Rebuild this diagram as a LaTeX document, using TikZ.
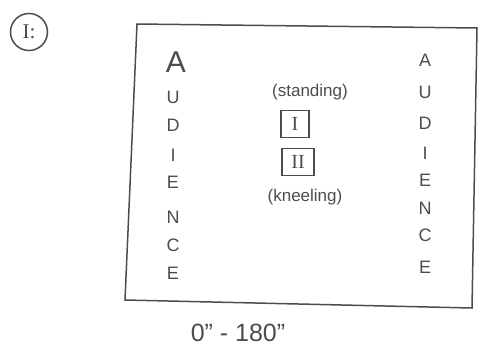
\documentclass[tikz,border=0pt]{standalone}
\usepackage{fontspec}
\setmainfont{Liberation Sans}
\newfontfamily\numfont{Liberation Serif}
\usetikzlibrary{calc}

\tikzset{
  pen/.style={draw=black!70, line width=1.5pt},
  letter/.style={text=black!70, font=\fontsize{18}{18}\selectfont, inner sep=0},
  note/.style={text=black!70, font=\fontsize{17}{17}\selectfont, inner sep=0},
  posbox/.style={pen, text=black!70, font=\numfont\fontsize{20}{20}\selectfont, minimum width=28pt, minimum height=27pt, inner sep=0},
}

\begin{document}
\begin{tikzpicture}[x=1pt, y=-1pt]
\useasboundingbox (0,0) rectangle (479,351);
% stage outline
\coordinate (tl) at (137,24);
\coordinate (tr) at (477,28);
\coordinate (br) at (472,308);
\coordinate (bl) at (125,300);
\draw[pen] (tl) -- (tr) -- (br) -- (bl) -- cycle;
% scene number
\node[circle, pen, minimum size=37pt, inner sep=0, text=black!70, font=\numfont\fontsize{21}{21}\selectfont] (scene) at (29,32) {I:};
% audience, left side
\node[letter, font=\fontsize{30}{30}\selectfont] (la1) at (176,62) {A};
\foreach \ch/\y [count=\i from 2] in {U/97, D/125, I/155, E/182, N/217, C/245, E/273} {
  \node[letter] (la\i) at (173,\y) {\ch};
}
% audience, right side
\foreach \ch/\y [count=\i] in {A/60, U/92, D/123, I/153, E/180, N/208, C/235, E/267} {
  \node[letter] (ra\i) at (425,\y) {\ch};
}
% positions
\node[note] (standing) at (310,92) {(standing)};
\node[posbox] (one) at (295,124) {I};
\node[posbox, minimum width=32pt] (two) at (298,162) {II};
\node[note] (kneeling) at (305,197) {(kneeling)};
% angle range
\node[note, font=\fontsize{25}{25}\selectfont] (range) at (238,333) {0'' - 180''};
\end{tikzpicture}
\end{document}
